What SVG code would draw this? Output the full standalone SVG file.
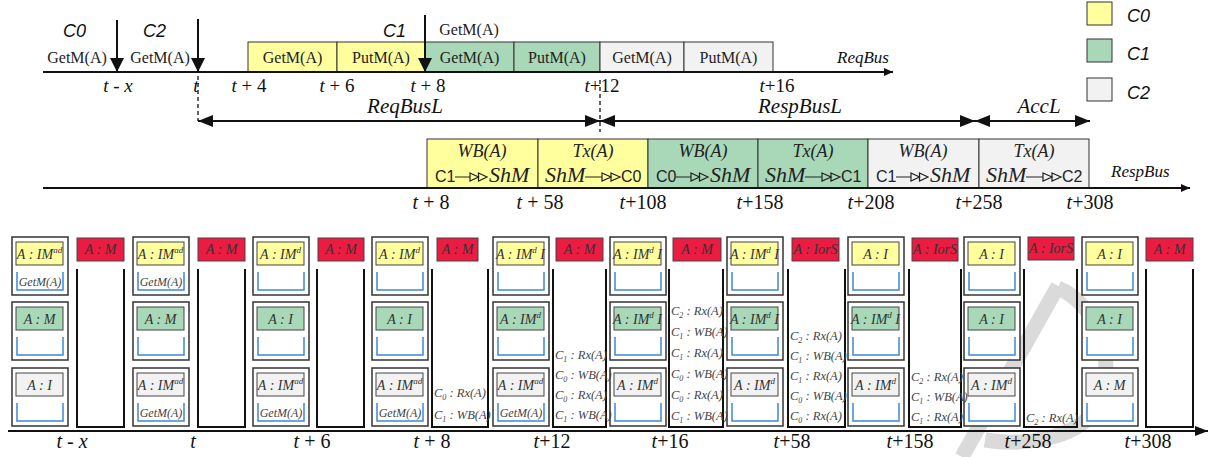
<svg xmlns="http://www.w3.org/2000/svg" width="1210" height="457" viewBox="0 0 1210 457">
<defs>
<style>
.ser{font-family:"Liberation Serif","Times New Roman",serif}
.san{font-family:"Liberation Sans",Arial,sans-serif}
.i{font-style:italic}
.bx{stroke:#333;stroke-width:1}
.y{fill:#FFFF9E}.g{fill:#A9D8B8}.gr{fill:#F2F2F2}.r{fill:#EC1B42}
.cb{fill:#fff;stroke:#333;stroke-width:1.5}
.lb{stroke:#444;stroke-width:1}
.lt{font-family:"Liberation Serif",serif;font-style:italic;font-size:14px;fill:#333;text-anchor:middle}
.br{fill:none;stroke:#3B8BD4;stroke-width:1.5}
.bt{font-family:"Liberation Serif",serif;font-style:italic;font-size:12px;fill:#444;text-anchor:middle}
.mu{fill:none;stroke:#111;stroke-width:2}
.mt{font-family:"Liberation Serif",serif;font-style:italic;font-size:12.5px;fill:#444}
.sub{font-size:8px}.sup{font-size:9px}
.tk{font-family:"Liberation Serif",serif;font-size:19px;fill:#111;text-anchor:middle}
.tb{font-family:"Liberation Serif",serif;font-size:20px;fill:#111;text-anchor:middle}
.rq{font-family:"Liberation Serif",serif;font-size:16px;fill:#222;text-anchor:middle}
.cl{font-family:"Liberation Sans",Arial,sans-serif;font-style:italic;font-size:18px;fill:#111}
.wb{font-family:"Liberation Serif",serif;font-style:italic;font-size:18px;fill:#222;text-anchor:middle}
.sh{font-family:"Liberation Serif",serif;font-style:italic;font-size:22px;fill:#222}
.cc{font-family:"Liberation Sans",Arial,sans-serif;font-size:16px;fill:#222}
.ar{fill:none;stroke:#222;stroke-width:1.2}
.ax{stroke:#111;stroke-width:2;fill:none}
.dl{stroke:#111;stroke-width:1.3;stroke-dasharray:4 3;fill:none}
.lab{font-family:"Liberation Serif",serif;font-style:italic;font-size:21px;fill:#111;text-anchor:middle}
</style>
<marker id="big" markerUnits="userSpaceOnUse" markerWidth="15" markerHeight="12" refX="15" refY="6" orient="auto-start-reverse"><path d="M0,0 L15,6 L0,12 Z" fill="#111"/></marker>
<marker id="sm" markerUnits="userSpaceOnUse" markerWidth="9" markerHeight="8" refX="9" refY="4" orient="auto"><path d="M0,0 L9,4 L0,8 Z" fill="#111"/></marker>
<marker id="md" markerUnits="userSpaceOnUse" markerWidth="13" markerHeight="10" refX="13" refY="5" orient="auto"><path d="M0,0 L13,5 L0,10 Z" fill="#111"/></marker>
<marker id="dn" markerUnits="userSpaceOnUse" markerWidth="14" markerHeight="14" refX="14" refY="7" orient="auto"><path d="M0,0 L14,7 L0,14 Z" fill="#111"/></marker>
</defs>
<rect width="1210" height="457" fill="#fff"/>

<g id="watermark" fill="none" stroke="#dadada" stroke-width="15">
<path d="M1058,286 L962,457"/>
<path d="M1058,288 C1100,305 1120,370 1095,410 C1075,440 1020,446 985,440"/>
</g>

<g id="reqbus-boxes">
<rect class="bx y" x="248" y="42" width="89" height="30"/><text class="rq" x="292.5" y="63">GetM(A)</text>
<rect class="bx y" x="337" y="42" width="88" height="30"/><text class="rq" x="381" y="63">PutM(A)</text>
<rect class="bx g" x="425" y="42" width="89" height="30"/><text class="rq" x="469.5" y="63">GetM(A)</text>
<rect class="bx g" x="514" y="42" width="86" height="30"/><text class="rq" x="557" y="63">PutM(A)</text>
<rect class="bx gr" x="600" y="42" width="84" height="30"/><text class="rq" x="642" y="63">GetM(A)</text>
<rect class="bx gr" x="684" y="42" width="89" height="30"/><text class="rq" x="728.5" y="63">PutM(A)</text>
</g>

<g id="requests">
<text class="cl" x="63" y="37">C0</text>
<text class="rq" x="77" y="63">GetM(A)</text>
<text class="cl" x="143" y="37">C2</text>
<text class="rq" x="160" y="63">GetM(A)</text>
<text class="cl" x="383" y="37">C1</text>
<text class="rq" x="469" y="35">GetM(A)</text>
</g>

<g id="legend">
<rect class="bx y" x="1087" y="2" width="25" height="23"/><text class="cl" x="1127" y="22">C0</text>
<rect class="bx g" x="1087" y="39" width="25" height="23"/><text class="cl" x="1127" y="60">C1</text>
<rect class="bx gr" x="1087" y="78" width="25" height="23"/><text class="cl" x="1127" y="99">C2</text>
</g>

<g id="respbus-boxes">
<rect class="bx y" x="427" y="139" width="111" height="49"/>
<text class="wb" x="482" y="157">WB(A)</text><text class="cc" x="435" y="182">C1</text>
<path class="ar" d="M455 177 H470 M470 173 L478.5 177 L470 181 Z M478.5 173 L487 177 L478.5 181 Z"/><text class="sh" x="489" y="182">ShM</text>
<rect class="bx y" x="538" y="139" width="110" height="49"/>
<text class="wb" x="593" y="157">Tx(A)</text><text class="sh" x="545" y="182">ShM</text>
<path class="ar" d="M585 177 H602 M602 173 L611 177 L602 181 Z M611 173 L620 177 L611 181 Z"/><text class="cc" x="621" y="182">C0</text>
<rect class="bx g" x="648" y="139" width="110" height="49"/>
<text class="wb" x="703" y="157">WB(A)</text><text class="cc" x="656" y="182">C0</text>
<path class="ar" d="M676 177 H691 M691 173 L699.5 177 L691 181 Z M699.5 173 L708 177 L699.5 181 Z"/><text class="sh" x="710" y="182">ShM</text>
<rect class="bx g" x="758" y="139" width="110" height="49"/>
<text class="wb" x="813" y="157">Tx(A)</text><text class="sh" x="765" y="182">ShM</text>
<path class="ar" d="M805 177 H822 M822 173 L831 177 L822 181 Z M831 173 L840 177 L831 181 Z"/><text class="cc" x="841" y="182">C1</text>
<rect class="bx gr" x="868" y="139" width="111" height="49"/>
<text class="wb" x="923" y="157">WB(A)</text><text class="cc" x="876" y="182">C1</text>
<path class="ar" d="M896 177 H911 M911 173 L919.5 177 L911 181 Z M919.5 173 L928 177 L919.5 181 Z"/><text class="sh" x="930" y="182">ShM</text>
<rect class="bx gr" x="979" y="139" width="110" height="49"/>
<text class="wb" x="1034" y="157">Tx(A)</text><text class="sh" x="986" y="182">ShM</text>
<path class="ar" d="M1026 177 H1043 M1043 173 L1052 177 L1043 181 Z M1052 173 L1061 177 L1052 181 Z"/><text class="cc" x="1062" y="182">C2</text>
</g>

<g id="connectors">
<line class="ax" x1="43" y1="72" x2="893" y2="72" marker-end="url(#sm)"/>
<line class="ax" x1="43" y1="188" x2="1190" y2="188" marker-end="url(#sm)"/>
<line class="ax" x1="8" y1="431" x2="1208" y2="431" stroke-width="2.5" marker-end="url(#md)"/>
<line class="ax" x1="117" y1="20" x2="117" y2="72" marker-end="url(#dn)"/>
<line class="ax" x1="198" y1="19" x2="198" y2="72" marker-end="url(#dn)"/>
<line class="ax" x1="425" y1="15" x2="425" y2="72" marker-end="url(#dn)"/>
<line class="dl" x1="198" y1="76" x2="198" y2="121"/>
<line class="dl" x1="600" y1="80" x2="600" y2="132"/>
<line class="ax" x1="198" y1="121" x2="600" y2="121" marker-start="url(#big)" marker-end="url(#big)"/>
<line class="ax" x1="600" y1="121" x2="975" y2="121" marker-start="url(#big)" marker-end="url(#big)"/>
<line class="ax" x1="975" y1="121" x2="1090" y2="121" marker-start="url(#big)" marker-end="url(#big)"/>
</g>

<g id="axis-labels">
<text class="lab" x="405" y="113">ReqBusL</text>
<text class="lab" x="800" y="113">RespBusL</text>
<text class="lab" x="1039" y="113">AccL</text>
<text class="ser i" x="837" y="63" font-size="17" fill="#111">ReqBus</text>
<text class="ser i" x="1111" y="177" font-size="17" fill="#111">RespBus</text>
<text class="tk" x="118" y="92"><tspan class="i">t</tspan> - <tspan class="i">x</tspan></text>
<text class="tk" x="196" y="92"><tspan class="i">t</tspan></text>
<text class="tk" x="249" y="92"><tspan class="i">t</tspan> + 4</text>
<text class="tk" x="337" y="92"><tspan class="i">t</tspan> + 6</text>
<text class="tk" x="428" y="92"><tspan class="i">t</tspan> + 8</text>
<text class="tk" x="602" y="92"><tspan class="i">t</tspan>+12</text>
<text class="tk" x="777" y="92"><tspan class="i">t</tspan>+16</text>
<text class="tb" x="431" y="209"><tspan class="i">t</tspan> + 8</text>
<text class="tb" x="540" y="209"><tspan class="i">t</tspan> + 58</text>
<text class="tb" x="643" y="209"><tspan class="i">t</tspan>+108</text>
<text class="tb" x="760" y="209"><tspan class="i">t</tspan>+158</text>
<text class="tb" x="871" y="209"><tspan class="i">t</tspan>+208</text>
<text class="tb" x="979" y="209"><tspan class="i">t</tspan>+258</text>
<text class="tb" x="1090" y="209"><tspan class="i">t</tspan>+308</text>
<text class="tb" x="72" y="448"><tspan class="i">t</tspan> - <tspan class="i">x</tspan></text>
<text class="tb" x="193" y="448"><tspan class="i">t</tspan></text>
<text class="tb" x="312" y="448"><tspan class="i">t</tspan> + 6</text>
<text class="tb" x="432" y="448"><tspan class="i">t</tspan> + 8</text>
<text class="tb" x="552" y="448"><tspan class="i">t</tspan>+12</text>
<text class="tb" x="670" y="448"><tspan class="i">t</tspan>+16</text>
<text class="tb" x="792" y="448"><tspan class="i">t</tspan>+58</text>
<text class="tb" x="910" y="448"><tspan class="i">t</tspan>+158</text>
<text class="tb" x="1028" y="448"><tspan class="i">t</tspan>+258</text>
<text class="tb" x="1148" y="448"><tspan class="i">t</tspan>+308</text>
</g>

<!-- core columns -->
<g id="core-1">
<rect class="cb" x="12" y="237" width="56" height="58"/><rect class="lb y" x="16" y="242" width="47" height="23"/><text class="lt" x="39.5" y="259">A : IM<tspan class="sup" dy="-6">ad</tspan></text><path class="br" d="M17 272 V290 H63 V272"/><text class="bt" x="40" y="286">GetM(A)</text>
<rect class="cb" x="12" y="302" width="56" height="58"/><rect class="lb g" x="16" y="307" width="47" height="23"/><text class="lt" x="39.5" y="324">A : M</text><path class="br" d="M17 337 V355 H63 V337"/>
<rect class="cb" x="12" y="368" width="56" height="58"/><rect class="lb gr" x="16" y="373" width="47" height="23"/><text class="lt" x="39.5" y="390">A : I</text><path class="br" d="M17 403 V421 H63 V403"/>
</g>
<g id="core-2">
<rect class="cb" x="133" y="237" width="56" height="58"/><rect class="lb y" x="137" y="242" width="47" height="23"/><text class="lt" x="160.5" y="259">A : IM<tspan class="sup" dy="-6">ad</tspan></text><path class="br" d="M138 272 V290 H184 V272"/><text class="bt" x="161" y="286">GetM(A)</text>
<rect class="cb" x="133" y="302" width="56" height="58"/><rect class="lb g" x="137" y="307" width="47" height="23"/><text class="lt" x="160.5" y="324">A : M</text><path class="br" d="M138 337 V355 H184 V337"/>
<rect class="cb" x="133" y="368" width="56" height="58"/><rect class="lb gr" x="137" y="373" width="47" height="23"/><text class="lt" x="160.5" y="390">A : IM<tspan class="sup" dy="-6">ad</tspan></text><path class="br" d="M138 403 V421 H184 V403"/><text class="bt" x="161" y="417">GetM(A)</text>
</g>
<g id="core-3">
<rect class="cb" x="253" y="237" width="56" height="58"/><rect class="lb y" x="257" y="242" width="47" height="23"/><text class="lt" x="280.5" y="259">A : IM<tspan class="sup" dy="-6">d</tspan></text><path class="br" d="M258 272 V290 H304 V272"/>
<rect class="cb" x="253" y="302" width="56" height="58"/><rect class="lb g" x="257" y="307" width="47" height="23"/><text class="lt" x="280.5" y="324">A : I</text><path class="br" d="M258 337 V355 H304 V337"/>
<rect class="cb" x="253" y="368" width="56" height="58"/><rect class="lb gr" x="257" y="373" width="47" height="23"/><text class="lt" x="280.5" y="390">A : IM<tspan class="sup" dy="-6">ad</tspan></text><path class="br" d="M258 403 V421 H304 V403"/><text class="bt" x="281" y="417">GetM(A)</text>
</g>
<g id="core-4">
<rect class="cb" x="372" y="237" width="56" height="58"/><rect class="lb y" x="376" y="242" width="47" height="23"/><text class="lt" x="399.5" y="259">A : IM<tspan class="sup" dy="-6">d</tspan></text><path class="br" d="M377 272 V290 H423 V272"/>
<rect class="cb" x="372" y="302" width="56" height="58"/><rect class="lb g" x="376" y="307" width="47" height="23"/><text class="lt" x="399.5" y="324">A : I</text><path class="br" d="M377 337 V355 H423 V337"/>
<rect class="cb" x="372" y="368" width="56" height="58"/><rect class="lb gr" x="376" y="373" width="47" height="23"/><text class="lt" x="399.5" y="390">A : IM<tspan class="sup" dy="-6">ad</tspan></text><path class="br" d="M377 403 V421 H423 V403"/><text class="bt" x="400" y="417">GetM(A)</text>
</g>
<g id="core-5">
<rect class="cb" x="493" y="237" width="56" height="58"/><rect class="lb y" x="497" y="242" width="47" height="23"/><text class="lt" x="520.5" y="259">A : IM<tspan class="sup" dy="-6">d</tspan><tspan dy="6"> I</tspan></text><path class="br" d="M498 272 V290 H544 V272"/>
<rect class="cb" x="493" y="302" width="56" height="58"/><rect class="lb g" x="497" y="307" width="47" height="23"/><text class="lt" x="520.5" y="324">A : IM<tspan class="sup" dy="-6">d</tspan></text><path class="br" d="M498 337 V355 H544 V337"/>
<rect class="cb" x="493" y="368" width="56" height="58"/><rect class="lb gr" x="497" y="373" width="47" height="23"/><text class="lt" x="520.5" y="390">A : IM<tspan class="sup" dy="-6">ad</tspan></text><path class="br" d="M498 403 V421 H544 V403"/><text class="bt" x="521" y="417">GetM(A)</text>
</g>
<g id="core-6">
<rect class="cb" x="610" y="237" width="56" height="58"/><rect class="lb y" x="614" y="242" width="47" height="23"/><text class="lt" x="637.5" y="259">A : IM<tspan class="sup" dy="-6">d</tspan><tspan dy="6"> I</tspan></text><path class="br" d="M615 272 V290 H661 V272"/>
<rect class="cb" x="610" y="302" width="56" height="58"/><rect class="lb g" x="614" y="307" width="47" height="23"/><text class="lt" x="637.5" y="324">A : IM<tspan class="sup" dy="-6">d</tspan><tspan dy="6"> I</tspan></text><path class="br" d="M615 337 V355 H661 V337"/>
<rect class="cb" x="610" y="368" width="56" height="58"/><rect class="lb gr" x="614" y="373" width="47" height="23"/><text class="lt" x="637.5" y="390">A : IM<tspan class="sup" dy="-6">d</tspan></text><path class="br" d="M615 403 V421 H661 V403"/>
</g>
<g id="core-7">
<rect class="cb" x="727" y="237" width="56" height="58"/><rect class="lb y" x="731" y="242" width="47" height="23"/><text class="lt" x="754.5" y="259">A : IM<tspan class="sup" dy="-6">d</tspan><tspan dy="6"> I</tspan></text><path class="br" d="M732 272 V290 H778 V272"/>
<rect class="cb" x="727" y="302" width="56" height="58"/><rect class="lb g" x="731" y="307" width="47" height="23"/><text class="lt" x="754.5" y="324">A : IM<tspan class="sup" dy="-6">d</tspan><tspan dy="6"> I</tspan></text><path class="br" d="M732 337 V355 H778 V337"/>
<rect class="cb" x="727" y="368" width="56" height="58"/><rect class="lb gr" x="731" y="373" width="47" height="23"/><text class="lt" x="754.5" y="390">A : IM<tspan class="sup" dy="-6">d</tspan></text><path class="br" d="M732 403 V421 H778 V403"/>
</g>
<g id="core-8">
<rect class="cb" x="848" y="237" width="56" height="58"/><rect class="lb y" x="852" y="242" width="47" height="23"/><text class="lt" x="875.5" y="259">A : I</text><path class="br" d="M853 272 V290 H899 V272"/>
<rect class="cb" x="848" y="302" width="56" height="58"/><rect class="lb g" x="852" y="307" width="47" height="23"/><text class="lt" x="875.5" y="324">A : IM<tspan class="sup" dy="-6">d</tspan><tspan dy="6"> I</tspan></text><path class="br" d="M853 337 V355 H899 V337"/>
<rect class="cb" x="848" y="368" width="56" height="58"/><rect class="lb gr" x="852" y="373" width="47" height="23"/><text class="lt" x="875.5" y="390">A : IM<tspan class="sup" dy="-6">d</tspan></text><path class="br" d="M853 403 V421 H899 V403"/>
</g>
<g id="core-9">
<rect class="cb" x="964" y="237" width="56" height="58"/><rect class="lb y" x="968" y="242" width="47" height="23"/><text class="lt" x="991.5" y="259">A : I</text><path class="br" d="M969 272 V290 H1015 V272"/>
<rect class="cb" x="964" y="302" width="56" height="58"/><rect class="lb g" x="968" y="307" width="47" height="23"/><text class="lt" x="991.5" y="324">A : I</text><path class="br" d="M969 337 V355 H1015 V337"/>
<rect class="cb" x="964" y="368" width="56" height="58"/><rect class="lb gr" x="968" y="373" width="47" height="23"/><text class="lt" x="991.5" y="390">A : IM<tspan class="sup" dy="-6">d</tspan></text><path class="br" d="M969 403 V421 H1015 V403"/>
</g>
<g id="core-10">
<rect class="cb" x="1082" y="237" width="56" height="58"/><rect class="lb y" x="1086" y="242" width="47" height="23"/><text class="lt" x="1109.5" y="259">A : I</text><path class="br" d="M1087 272 V290 H1133 V272"/>
<rect class="cb" x="1082" y="302" width="56" height="58"/><rect class="lb g" x="1086" y="307" width="47" height="23"/><text class="lt" x="1109.5" y="324">A : I</text><path class="br" d="M1087 337 V355 H1133 V337"/>
<rect class="cb" x="1082" y="368" width="56" height="58"/><rect class="lb gr" x="1086" y="373" width="47" height="23"/><text class="lt" x="1109.5" y="390">A : M</text><path class="br" d="M1087 403 V421 H1133 V403"/>
</g>

<!-- memory columns -->
<g id="mem-1"><rect class="lb r" x="77" y="238" width="47" height="23"/><text class="lt" x="100.5" y="254" fill="#222">A : M</text><path class="mu" d="M77 269 V427 H124 V269"/></g>
<g id="mem-2"><rect class="lb r" x="198" y="238" width="47" height="23"/><text class="lt" x="221.5" y="254" fill="#222">A : M</text><path class="mu" d="M198 269 V427 H245 V269"/></g>
<g id="mem-3"><rect class="lb r" x="318" y="238" width="46" height="23"/><text class="lt" x="341" y="254" fill="#222">A : M</text><path class="mu" d="M317 269 V427 H364 V269"/></g>
<g id="mem-4"><rect class="lb r" x="437" y="238" width="41" height="23"/><text class="lt" x="457.5" y="254" fill="#222">A : M</text><path class="mu" d="M432 269 V427 H488 V269"/>
<text class="mt" x="434" y="397">C<tspan class="sub" dy="3">0</tspan><tspan dy="-3"> : Rx(A)</tspan></text>
<text class="mt" x="434" y="419">C<tspan class="sub" dy="3">1</tspan><tspan dy="-3"> : WB(A)</tspan></text>
</g>
<g id="mem-5"><rect class="lb r" x="556" y="238" width="47" height="23"/><text class="lt" x="579.5" y="254" fill="#222">A : M</text><path class="mu" d="M553 269 V427 H606 V269"/>
<text class="mt" x="555" y="359">C<tspan class="sub" dy="3">1</tspan><tspan dy="-3"> : Rx(A)</tspan></text>
<text class="mt" x="555" y="379">C<tspan class="sub" dy="3">0</tspan><tspan dy="-3"> : WB(A)</tspan></text>
<text class="mt" x="555" y="399">C<tspan class="sub" dy="3">0</tspan><tspan dy="-3"> : Rx(A)</tspan></text>
<text class="mt" x="555" y="419">C<tspan class="sub" dy="3">1</tspan><tspan dy="-3"> : WB(A)</tspan></text>
</g>
<g id="mem-6"><rect class="lb r" x="673" y="238" width="48" height="23"/><text class="lt" x="697" y="254" fill="#222">A : M</text><path class="mu" d="M669 269 V427 H723 V269"/>
<text class="mt" x="671" y="315">C<tspan class="sub" dy="3">2</tspan><tspan dy="-3"> : Rx(A)</tspan></text>
<text class="mt" x="671" y="336">C<tspan class="sub" dy="3">1</tspan><tspan dy="-3"> : WB(A)</tspan></text>
<text class="mt" x="671" y="357">C<tspan class="sub" dy="3">1</tspan><tspan dy="-3"> : Rx(A)</tspan></text>
<text class="mt" x="671" y="378">C<tspan class="sub" dy="3">0</tspan><tspan dy="-3"> : WB(A)</tspan></text>
<text class="mt" x="671" y="399">C<tspan class="sub" dy="3">0</tspan><tspan dy="-3"> : Rx(A)</tspan></text>
<text class="mt" x="671" y="420">C<tspan class="sub" dy="3">1</tspan><tspan dy="-3"> : WB(A)</tspan></text>
</g>
<g id="mem-7"><rect class="lb r" x="792" y="238" width="47" height="23"/><text class="lt" x="815.5" y="254" fill="#222" font-size="13.5">A : IorS</text><path class="mu" d="M788 269 V427 H845 V269"/>
<text class="mt" x="790" y="340">C<tspan class="sub" dy="3">2</tspan><tspan dy="-3"> : Rx(A)</tspan></text>
<text class="mt" x="790" y="360">C<tspan class="sub" dy="3">1</tspan><tspan dy="-3"> : WB(A)</tspan></text>
<text class="mt" x="790" y="380">C<tspan class="sub" dy="3">1</tspan><tspan dy="-3"> : Rx(A)</tspan></text>
<text class="mt" x="790" y="400">C<tspan class="sub" dy="3">0</tspan><tspan dy="-3"> : WB(A)</tspan></text>
<text class="mt" x="790" y="420">C<tspan class="sub" dy="3">0</tspan><tspan dy="-3"> : Rx(A)</tspan></text>
</g>
<g id="mem-8"><rect class="lb r" x="912" y="238" width="46" height="23"/><text class="lt" x="935" y="254" fill="#222" font-size="13.5">A : IorS</text><path class="mu" d="M909 269 V427 H961 V269"/>
<text class="mt" x="911" y="381">C<tspan class="sub" dy="3">2</tspan><tspan dy="-3"> : Rx(A)</tspan></text>
<text class="mt" x="911" y="401">C<tspan class="sub" dy="3">1</tspan><tspan dy="-3"> : WB(A)</tspan></text>
<text class="mt" x="911" y="421">C<tspan class="sub" dy="3">1</tspan><tspan dy="-3"> : Rx(A)</tspan></text>
</g>
<g id="mem-9"><rect class="lb r" x="1028" y="237" width="46" height="23"/><text class="lt" x="1051" y="253" fill="#222" font-size="13.5">A : IorS</text><path class="mu" d="M1024 269 V427 H1077 V269"/>
<text class="mt" x="1026" y="422" font-size="10.5">C<tspan class="sub" dy="3" font-size="7">2</tspan><tspan dy="-3"> : Rx(A)</tspan></text>
</g>
<g id="mem-10"><rect class="lb r" x="1146" y="238" width="47" height="23"/><text class="lt" x="1169.5" y="254" fill="#222">A : M</text><path class="mu" d="M1146 269 V427 H1193 V269"/></g>
</svg>
